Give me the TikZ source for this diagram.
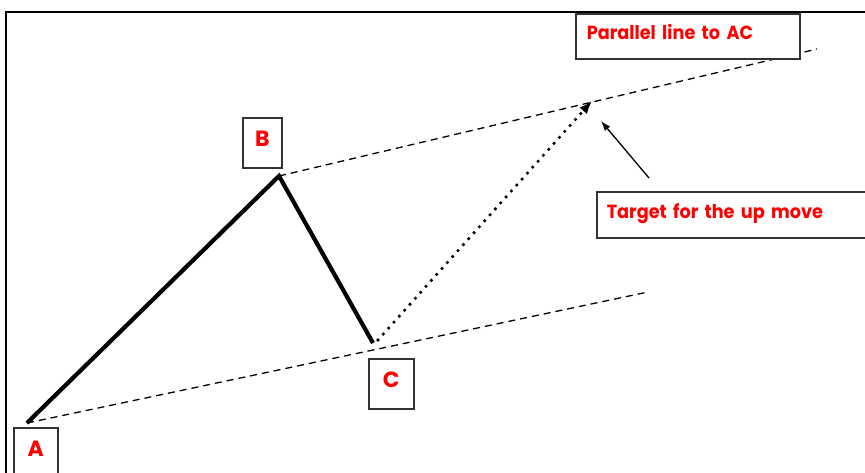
\documentclass[tikz,border=0pt]{standalone}
\usepackage{fontspec}
\setmainfont{Poppins}
\newfontfamily\notefont[FakeStretch=0.93]{Poppins}
\usetikzlibrary{arrows.meta}

\tikzset{
    frame/.style={draw=black, line width=1.3pt},
    leg/.style={line width=4.2pt, black, line join=miter},
    channel/.style={line width=1.3pt, dash pattern=on 7pt off 5pt},
    projection/.style={line width=3.6pt, line cap=round, dash pattern=on 0pt off 8pt, -{Latex[length=13pt,width=10pt]}},
    pointer/.style={line width=1.3pt, -{Latex[length=10pt,width=7pt]}},
    pointbox/.style={draw=black!80, line width=1.5pt, fill=white, text=red, inner sep=0pt,
        font=\bfseries\fontsize{22}{24}\selectfont, text height=29pt, text depth=21pt},
    notebox/.style={draw=black!80, line width=1.5pt, fill=white, text=red, inner ysep=0pt, align=left,
        font=\notefont\bfseries\fontsize{19}{21}\selectfont, anchor=north west},
}

\begin{document}
\begin{tikzpicture}[x=1pt, y=-1pt]

    \useasboundingbox (0,0) rectangle (865,472);
    \clip (0,0) rectangle (865,472);

    % outer frame, cut by the picture border
    \draw[frame] (6,12) rectangle (900,520);

    % wave points
    \coordinate (A) at (27,423);
    \coordinate (B) at (279,176);
    \coordinate (C) at (373,343);
    \coordinate (T) at (592,101);
    \coordinate (lowEnd) at (648,292);
    \coordinate (upEnd) at (817,49);
    \coordinate (ptrTail) at (649,178);
    \coordinate (ptrHead) at (601,121);

    % channel lines
    \draw[channel] (A) -- (lowEnd);
    \draw[channel] (B) -- (upEnd);

    % the A-B-C legs and the projected move
    \draw[leg] (A) -- (B) -- (C);
    \draw[projection] ([shift={(5,-3)}]C) -- (T);
    \draw[pointer] (ptrTail) -- (ptrHead);

    % labels
    \node[pointbox, minimum width=44pt, text depth=60pt, anchor=north west] (labA) at (13,427) {A};
    \node[pointbox, minimum width=39pt, anchor=north west] (labB) at (242,117) {B};
    \node[pointbox, minimum width=45pt, anchor=north west] (labC) at (368,358) {C};

    \node[notebox, inner xsep=11pt, text width=202pt, text height=26pt, text depth=19pt] (parallel) at (575,13) {Parallel line to AC};
    \node[notebox, inner xsep=10pt, text width=300pt, text height=27pt, text depth=19pt] (target) at (596,191) {Target for the up move};

\end{tikzpicture}
\end{document}
